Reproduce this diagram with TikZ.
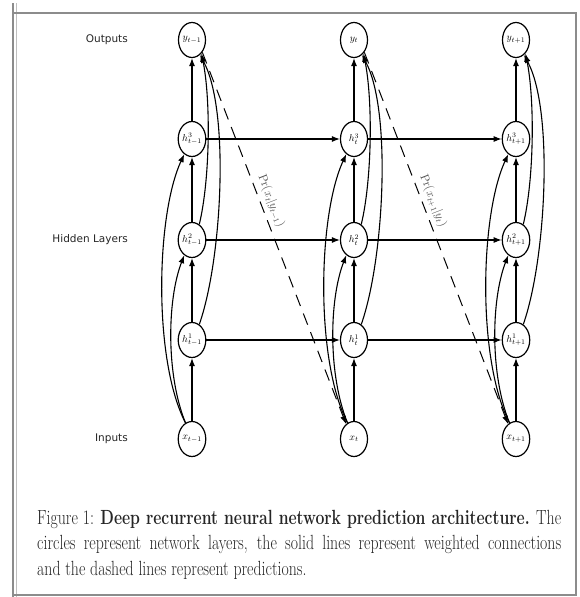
\documentclass[tikz,border=0pt]{standalone}
\usepackage{fontspec}
\newfontfamily\labfont{DejaVu Sans}
\usetikzlibrary{arrows.meta,shapes.geometric}
\newlength\capA
\newlength\capB
\begin{document}
\begin{tikzpicture}[x=1pt,y=-1pt,
 unit/.style={draw, ellipse, minimum width=27pt, minimum height=35pt, inner sep=0pt, line width=1.2pt, font=\fontsize{10}{12}\selectfont},
 conn/.style={line width=1.1pt, -{Latex[length=8pt,width=6pt]}},
 pred/.style={line width=1pt, dash pattern=on 12pt off 8pt, -{Latex[length=8pt,width=6pt]}},
 side/.style={font=\labfont\fontsize{10.5}{12}\selectfont, anchor=east, inner sep=0pt, text=black!85},
 lbl/.style={font=\fontsize{12}{14}\selectfont, text=black!70, inner sep=1pt},
 frame/.style={draw=black!45, line width=1.4pt},
]
\useasboundingbox (0,0) rectangle (579,597);
\fill[white] (0,0) rectangle (579,597);
\draw[frame] (13,3) -- (13,597);
\draw[black!25, line width=1pt] (16,3) -- (16,597);
\draw[frame] (13,13) rectangle (576,595);

\node[side] (lo) at (128,40) {Outputs};
\node[side] (lh) at (128,240) {Hidden Layers};
\node[side] (li) at (128,439) {Inputs};

\foreach \i/\cx/\s in {1/192/{t-1},2/354/t,3/516/{t+1}} {
  \node[unit] (y\i) at (\cx,40) {$y_{\s}$};
  \node[unit] (c\i) at (\cx,139) {$h^3_{\s}$};
  \node[unit] (b\i) at (\cx,240) {$h^2_{\s}$};
  \node[unit] (a\i) at (\cx,340) {$h^1_{\s}$};
  \node[unit] (x\i) at (\cx,439) {$x_{\s}$};
}

\foreach \i/\cx in {1/192,2/354,3/516} {
  \draw[conn] (x\i) -- (a\i);
  \draw[conn] (a\i) -- (b\i);
  \draw[conn] (b\i) -- (c\i);
  \draw[conn] (c\i) -- (y\i);
  \draw[conn] (x\i.112) .. controls (\cx-39,360) and (\cx-36,215) .. (c\i.243);
  \draw[conn] (x\i.112) .. controls (\cx-26,375) and (\cx-25,300) .. (b\i.243);
  \draw[conn] (a\i.65) .. controls (\cx+30,260) and (\cx+38,110) .. (y\i.-62);
  \draw[conn] (b\i.65) .. controls (\cx+18,180) and (\cx+19,100) .. (y\i.-55);
}

\foreach \p/\q in {1/2,2/3} {
  \draw[conn] (a\p) -- (a\q);
  \draw[conn] (b\p) -- (b\q);
  \draw[conn] (c\p) -- (c\q);
}

\draw[pred] (y1.-50) -- node[sloped, above=3pt, pos=0.41, lbl] (p1) {$\Pr(x_t|y_{t-1})$} (x2.118);
\draw[pred] (y2.-50) -- node[sloped, above=3pt, pos=0.41, lbl] (p2) {$\Pr(x_{t+1}|y_t)$} (x3.118);

\node[anchor=base west, inner sep=0pt, text=black!85] (cap) at (37,524) {\fontsize{20.5}{25.5}\selectfont
  \settowidth{\capA}{Figure 1: \textbf{Deep recurrent neural network prediction architecture.} The}%
  \settowidth{\capB}{circles represent network layers, the solid lines represent weighted connections}%
  \ifdim\capB>\capA \capA=\capB\fi
  \addtolength{\capA}{0.5pt}%
  \resizebox{524pt}{\height}{\parbox[t]{\capA}{Figure 1: \textbf{Deep recurrent neural network prediction architecture.} The\linebreak circles represent network layers, the solid lines represent weighted connections\linebreak and the dashed lines represent predictions.}}};
\end{tikzpicture}
\end{document}
